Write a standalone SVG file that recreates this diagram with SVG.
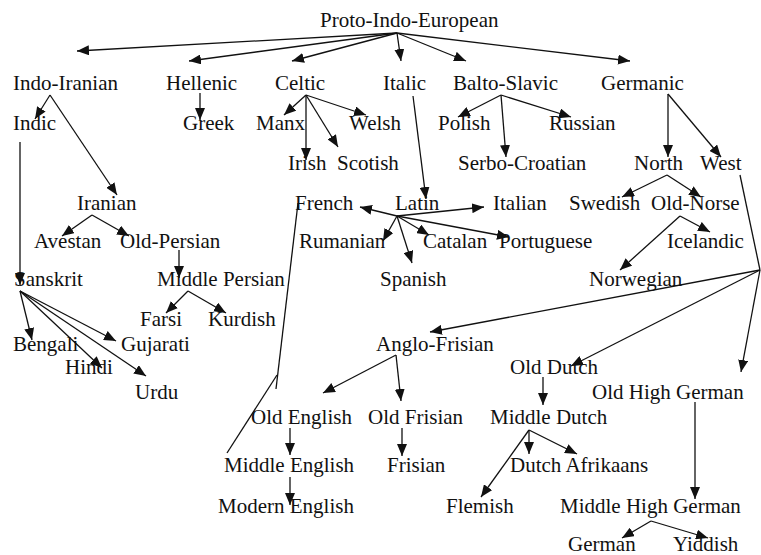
<svg xmlns="http://www.w3.org/2000/svg" width="761" height="555" viewBox="0 0 761 555">
  <style>
    .edge { stroke: #111; stroke-width: 1.3; fill: none; }
    .arrow { marker-end: url(#head); }
  </style>
  <defs>
    <marker id="head" markerUnits="userSpaceOnUse" markerWidth="13" markerHeight="10" refX="12" refY="5" orient="auto">
      <path d="M0,0 L12,5 L0,10 z" fill="#111"/>
    </marker>
  </defs>
  <rect width="761" height="555" fill="#fff"/>

  <g id="connectors">
    <!-- Proto-Indo-European branches -->
    <line class="edge arrow" x1="397" y1="33" x2="77" y2="51"/>
    <line class="edge arrow" x1="397" y1="33" x2="189" y2="61"/>
    <line class="edge arrow" x1="397" y1="33" x2="292" y2="61"/>
    <line class="edge arrow" x1="397" y1="33" x2="401" y2="61"/>
    <line class="edge arrow" x1="397" y1="33" x2="466" y2="61"/>
    <line class="edge arrow" x1="397" y1="33" x2="630" y2="61"/>
    <!-- Indo-Iranian -->
    <line class="edge arrow" x1="50" y1="95" x2="35" y2="119"/>
    <line class="edge arrow" x1="50" y1="95" x2="117" y2="195"/>
    <line class="edge arrow" x1="20" y1="142" x2="20" y2="285"/>
    <line class="edge arrow" x1="92" y1="215" x2="62" y2="236"/>
    <line class="edge arrow" x1="92" y1="215" x2="129" y2="236"/>
    <line class="edge arrow" x1="179" y1="250" x2="179" y2="278"/>
    <line class="edge arrow" x1="188" y1="291" x2="166" y2="313"/>
    <line class="edge arrow" x1="188" y1="291" x2="226" y2="313"/>
    <line class="edge arrow" x1="20" y1="291" x2="32" y2="340"/>
    <line class="edge arrow" x1="20" y1="291" x2="116" y2="341"/>
    <line class="edge arrow" x1="20" y1="291" x2="102" y2="368"/>
    <line class="edge arrow" x1="20" y1="291" x2="146" y2="376"/>
    <!-- Hellenic, Celtic -->
    <line class="edge arrow" x1="200" y1="93" x2="200" y2="120"/>
    <line class="edge arrow" x1="306" y1="95" x2="284" y2="115"/>
    <line class="edge arrow" x1="306" y1="95" x2="306" y2="160"/>
    <line class="edge arrow" x1="306" y1="95" x2="338" y2="147"/>
    <line class="edge arrow" x1="306" y1="95" x2="366" y2="115"/>
    <!-- Italic / Latin -->
    <line class="edge arrow" x1="413" y1="96" x2="426" y2="199"/>
    <line class="edge arrow" x1="397" y1="216" x2="360" y2="207"/>
    <line class="edge arrow" x1="397" y1="216" x2="484" y2="207"/>
    <line class="edge arrow" x1="397" y1="216" x2="383" y2="241"/>
    <line class="edge arrow" x1="397" y1="216" x2="412" y2="263"/>
    <line class="edge arrow" x1="397" y1="216" x2="429" y2="235"/>
    <line class="edge arrow" x1="397" y1="216" x2="509" y2="237"/>
    <!-- French to Middle English -->
    <line class="edge" x1="298" y1="203" x2="276" y2="389"/>
    <line class="edge" x1="277" y1="375" x2="227" y2="453"/>
    <!-- Balto-Slavic -->
    <line class="edge arrow" x1="501" y1="95" x2="458" y2="117"/>
    <line class="edge arrow" x1="501" y1="95" x2="506" y2="157"/>
    <line class="edge arrow" x1="501" y1="95" x2="571" y2="117"/>
    <!-- Germanic -->
    <line class="edge arrow" x1="668" y1="94" x2="668" y2="157"/>
    <line class="edge arrow" x1="668" y1="94" x2="721" y2="157"/>
    <line class="edge arrow" x1="667" y1="175" x2="622" y2="197"/>
    <line class="edge arrow" x1="667" y1="175" x2="701" y2="197"/>
    <line class="edge arrow" x1="680" y1="216" x2="710" y2="232"/>
    <line class="edge arrow" x1="680" y1="216" x2="620" y2="270"/>
    <!-- West -->
    <line class="edge" x1="740" y1="175" x2="760" y2="270"/>
    <line class="edge arrow" x1="760" y1="270" x2="430" y2="332"/>
    <line class="edge arrow" x1="760" y1="270" x2="571" y2="366"/>
    <line class="edge arrow" x1="760" y1="270" x2="741" y2="372"/>
    <!-- Anglo-Frisian -->
    <line class="edge arrow" x1="396" y1="355" x2="323" y2="393"/>
    <line class="edge arrow" x1="396" y1="355" x2="401" y2="401"/>
    <line class="edge arrow" x1="290" y1="428" x2="290" y2="455"/>
    <line class="edge arrow" x1="402" y1="428" x2="402" y2="456"/>
    <line class="edge arrow" x1="290" y1="477" x2="290" y2="505"/>
    <!-- Dutch -->
    <line class="edge arrow" x1="543" y1="377" x2="543" y2="405"/>
    <line class="edge arrow" x1="529" y1="430" x2="481" y2="497"/>
    <line class="edge arrow" x1="529" y1="430" x2="529" y2="454"/>
    <line class="edge arrow" x1="529" y1="430" x2="577" y2="454"/>
    <!-- High German -->
    <line class="edge arrow" x1="695" y1="402" x2="695" y2="499"/>
    <line class="edge arrow" x1="651" y1="521" x2="622" y2="538"/>
    <line class="edge arrow" x1="651" y1="521" x2="708" y2="538"/>
  </g>

  <g id="labels" font-family="Liberation Serif, DejaVu Serif, serif" font-size="21" fill="#111">
    <g id="proto-indo-european"><text x="320" y="27">Proto-Indo-European</text></g>
    <g id="indo-iranian"><text x="13" y="90">Indo-Iranian</text></g>
    <g id="hellenic"><text x="166" y="90">Hellenic</text></g>
    <g id="celtic"><text x="275" y="90">Celtic</text></g>
    <g id="italic"><text x="383" y="90">Italic</text></g>
    <g id="balto-slavic"><text x="453" y="90">Balto-Slavic</text></g>
    <g id="germanic"><text x="601" y="90">Germanic</text></g>
    <g id="indic"><text x="13" y="130">Indic</text></g>
    <g id="greek"><text x="183" y="130">Greek</text></g>
    <g id="manx"><text x="256" y="130">Manx</text></g>
    <g id="welsh"><text x="349" y="130">Welsh</text></g>
    <g id="polish"><text x="438" y="130">Polish</text></g>
    <g id="russian"><text x="549" y="130">Russian</text></g>
    <g id="irish"><text x="288" y="170">Irish</text></g>
    <g id="scotish"><text x="337" y="170">Scotish</text></g>
    <g id="serbo-croatian"><text x="458" y="170">Serbo-Croatian</text></g>
    <g id="north"><text x="634" y="170">North</text></g>
    <g id="west"><text x="700" y="170">West</text></g>
    <g id="iranian"><text x="77" y="210">Iranian</text></g>
    <g id="french"><text x="295" y="210">French</text></g>
    <g id="latin"><text x="395" y="210">Latin</text></g>
    <g id="italian"><text x="493" y="210">Italian</text></g>
    <g id="swedish"><text x="569" y="210">Swedish</text></g>
    <g id="old-norse"><text x="651" y="210">Old-Norse</text></g>
    <g id="avestan"><text x="34" y="248">Avestan</text></g>
    <g id="old-persian"><text x="120" y="248">Old-Persian</text></g>
    <g id="rumanian"><text x="299" y="248">Rumanian</text></g>
    <g id="catalan"><text x="423" y="248">Catalan</text></g>
    <g id="portuguese"><text x="499" y="248">Portuguese</text></g>
    <g id="icelandic"><text x="667" y="248">Icelandic</text></g>
    <g id="sanskrit"><text x="14" y="286">Sanskrit</text></g>
    <g id="middle-persian"><text x="157" y="286">Middle Persian</text></g>
    <g id="spanish"><text x="380" y="286">Spanish</text></g>
    <g id="norwegian"><text x="589" y="286">Norwegian</text></g>
    <g id="farsi"><text x="140" y="326">Farsi</text></g>
    <g id="kurdish"><text x="208" y="326">Kurdish</text></g>
    <g id="bengali"><text x="13" y="351">Bengali</text></g>
    <g id="gujarati"><text x="121" y="351">Gujarati</text></g>
    <g id="anglo-frisian"><text x="376" y="351">Anglo-Frisian</text></g>
    <g id="hindi"><text x="65" y="374">Hindi</text></g>
    <g id="old-dutch"><text x="510" y="374">Old Dutch</text></g>
    <g id="urdu"><text x="135" y="399">Urdu</text></g>
    <g id="old-high-german"><text x="592" y="399">Old High German</text></g>
    <g id="old-english"><text x="251" y="424">Old English</text></g>
    <g id="old-frisian"><text x="368" y="424">Old Frisian</text></g>
    <g id="middle-dutch"><text x="490" y="424">Middle Dutch</text></g>
    <g id="middle-english"><text x="224" y="472">Middle English</text></g>
    <g id="frisian"><text x="387" y="472">Frisian</text></g>
    <g id="dutch-afrikaans"><text x="510" y="472">Dutch Afrikaans</text></g>
    <g id="modern-english"><text x="218" y="513">Modern English</text></g>
    <g id="flemish"><text x="446" y="513">Flemish</text></g>
    <g id="middle-high-german"><text x="560" y="513">Middle High German</text></g>
    <g id="german"><text x="568" y="551">German</text></g>
    <g id="yiddish"><text x="673" y="551">Yiddish</text></g>
  </g>
</svg>
